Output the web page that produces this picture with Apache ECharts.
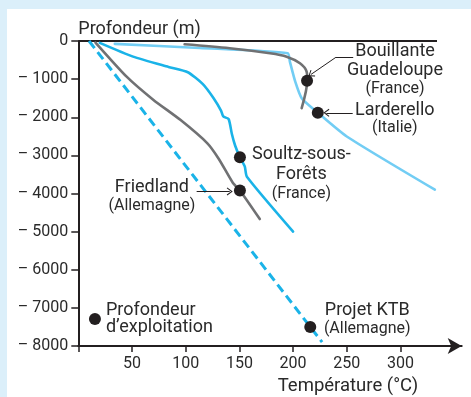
<!DOCTYPE html>
<html>
<head>
<meta charset="utf-8">
<script src="https://cdn.jsdelivr.net/npm/echarts@6/dist/echarts.min.js"></script>
<style>
  html, body { margin: 0; padding: 0; width: 471px; height: 397px; overflow: hidden; background: #dbeffa; }
  #chart { position: absolute; left: 7px; top: 9px; width: 464px; height: 388px; background: #ffffff; }
</style>
</head>
<body>
<div id="chart"></div>
<script>
// Axis ticks and their labels
const tempTicks = [0, 50, 100, 150, 200, 250, 300];
const tempLabels = ['', '50', '100', '150', '200', '250', '300'];
const depthTicks = [0, -1000, -2000, -3000, -4000, -5000, -6000, -7000, -8000];
const depthLabels = ['0', '– 1000', '– 2000', '– 3000', '– 4000', '– 5000', '– 6000', '– 7000', '– 8000'];

// Temperature (°C) versus depth (m) profiles for each site
const larderello = [[34, -75], [113, -183], [195, -322], [197, -542], [202, -1066], [208, -1500], [223, -1880], [250, -2505], [332, -3900]];
const bouillante = [[99, -86], [141, -190], [178.5, -322], [194, -411], [206.4, -584], [212.6, -804], [213.2, -1039], [208, -1762]];
const soultz = [[20, -50], [51, -410], [84, -680], [102, -820], [116, -1130], [126, -1500], [133, -1830], [135, -1980], [140, -2050], [143, -2440], [146, -2740], [150.5, -3050], [155, -3290], [157, -3560], [200, -5000]];
const friedland = [[16, -40], [45, -935], [70, -1545], [95, -2068], [120, -2678], [131, -3100], [144, -3725], [150.5, -3920], [169, -4670]];
const ktb = [[10, 0], [227, -7900]];

// Operating depth at each site
const sites = ['Bouillante', 'Larderello', 'Soultz', 'Friedland', 'KTB'];
const operating = [[213, -1040], [223, -1880], [150.5, -3050], [150.5, -3920], [216, -7500]];
const legendPoint = [15.5, -7290];

const TXT = '#2a2a2a';
const INK = '#231f20';
const GREY = '#707173';
const CYAN = '#1ab3e8';
const SKY = '#72cdf4';
const FONT = 'Roboto, "Noto Sans", sans-serif';

const rich = {
  a: { fontFamily: FONT, fontSize: 18, lineHeight: 19.5, color: TXT },
  b: { fontFamily: FONT, fontSize: 16, lineHeight: 17, color: TXT },
  c: { fontFamily: FONT, fontSize: 18, lineHeight: 20.5, color: TXT },
  d: { fontFamily: FONT, fontSize: 16, lineHeight: 19, color: TXT },
  e: { fontFamily: FONT, fontSize: 18, lineHeight: 17.6, color: TXT }
};

const siteLabels = {
  Bouillante: { text: '{a|Bouillante}\n{a|Guadeloupe}\n{b|(France)}', offset: [88, -11] },
  Larderello: { text: '{a|Larderello}\n{b|(Italie)}', offset: [77, 6] },
  Soultz: { text: '{c|Soultz-sous-}\n{c|Forêts}\n{d|(France)}', offset: [61.5, 16.5] },
  Friedland: { text: '{a|Friedland}\n{b|(Allemagne)}', offset: [-88, 6] },
  KTB: { text: '{a|Projet KTB}\n{b|(Allemagne)}', offset: [57, -8] }
};

const chevron = 'path://M5,0 L10,9 L9,10 L5,2.8 L1,10 L0,9 Z';

function profile(name, data, color, smooth, extra) {
  return Object.assign({
    name: name,
    type: 'line',
    data: data,
    symbol: 'none',
    smooth: smooth,
    clip: false,
    lineStyle: { color: color, width: 2.6, cap: 'round' },
    z: 3
  }, extra || {});
}

const chart = echarts.init(document.getElementById('chart'), null, { renderer: 'canvas' });

chart.setOption({
  animation: false,
  backgroundColor: '#ffffff',
  grid: { left: 71.3, top: 32, width: 383.4, height: 305, outerBoundsMode: 'none' },
  xAxis: {
    type: 'value',
    min: 0,
    max: 357,
    name: 'Température (°C)',
    nameLocation: 'middle',
    nameGap: 37,
    nameTextStyle: { fontFamily: FONT, fontSize: 18.5, color: TXT, verticalAlign: 'middle', padding: [0, 0, 0, 156] },
    axisLine: {
      onZero: false,
      symbol: ['none', 'arrow'],
      symbolSize: [12, 14],
      lineStyle: { color: INK, width: 2 }
    },
    axisTick: { show: true, length: 6, customValues: tempTicks, lineStyle: { color: INK, width: 1.5 } },
    axisLabel: {
      customValues: tempTicks,
      margin: 10,
      fontFamily: FONT,
      fontSize: 16,
      color: TXT,
      formatter: v => tempLabels[tempTicks.indexOf(v)] || ''
    },
    splitLine: { show: false }
  },
  yAxis: {
    type: 'value',
    min: -8000,
    max: 0,
    interval: 1000,
    name: 'Profondeur (m)',
    nameLocation: 'end',
    nameGap: 12,
    nameMoveOverlap: false,
    nameTextStyle: { fontFamily: FONT, fontSize: 18, color: TXT, align: 'left', verticalAlign: 'middle' },
    axisLine: { onZero: false, lineStyle: { color: INK, width: 2 } },
    axisTick: { show: true, length: 7, lineStyle: { color: INK, width: 1.5 } },
    axisLabel: {
      margin: 10,
      fontFamily: FONT,
      fontSize: 16,
      color: TXT,
      verticalAlign: 'middle',
      padding: [0, 0, 8, 0],
      formatter: v => depthLabels[depthTicks.indexOf(v)]
    },
    splitLine: { show: false }
  },
  series: [
    // surface line at zero depth
    {
      type: 'line',
      data: [[0, 0], [334, 0]],
      symbol: 'none',
      clip: false,
      lineStyle: { color: INK, width: 2 },
      z: 2
    },
    profile('Larderello', larderello, SKY, 0.2),
    profile('Bouillante', bouillante, GREY, 0.3, { z: 4 }),
    profile('Soultz', soultz, CYAN, 0.2),
    profile('Friedland', friedland, GREY, 0.2),
    profile('KTB', ktb, CYAN, false, { lineStyle: { color: CYAN, width: 3, type: [9, 5] } }),
    // pointer arrows from the labels to the operating points
    {
      type: 'line',
      data: [],
      markLine: {
        silent: true,
        animation: false,
        symbol: ['none', chevron],
        symbolSize: [8, 6],
        label: { show: false },
        lineStyle: { color: INK, width: 1, type: 'solid' },
        data: [
          [{ coord: [256, -427], symbol: 'none' }, { coord: [239.9, -427], symbol: 'none' }],
          [{ coord: [239.9, -427] }, { coord: [216.5, -880] }],
          [{ coord: [255.5, -1885] }, { coord: [231, -1885] }],
          [{ coord: [110.2, -3945] }, { coord: [141, -3945] }]
        ]
      }
    },
    {
      name: 'exploitation',
      type: 'scatter',
      symbol: 'circle',
      symbolSize: 12,
      itemStyle: { color: INK, opacity: 1 },
      z: 6,
      data: operating.map((p, i) => ({
        value: p,
        label: {
          show: true,
          position: 'inside',
          align: 'center',
          verticalAlign: 'middle',
          offset: siteLabels[sites[i]].offset,
          formatter: siteLabels[sites[i]].text,
          rich: rich
        }
      }))
    },
    {
      name: 'legende',
      type: 'scatter',
      symbol: 'circle',
      symbolSize: 12,
      itemStyle: { color: INK, opacity: 1 },
      z: 6,
      data: [{
        value: legendPoint,
        label: {
          show: true,
          position: 'right',
          distance: 5,
          align: 'left',
          verticalAlign: 'middle',
          formatter: '{e|Profondeur}\n{e|d’exploitation}',
          rich: rich
        }
      }]
    }
  ]
});
</script>
</body>
</html>
